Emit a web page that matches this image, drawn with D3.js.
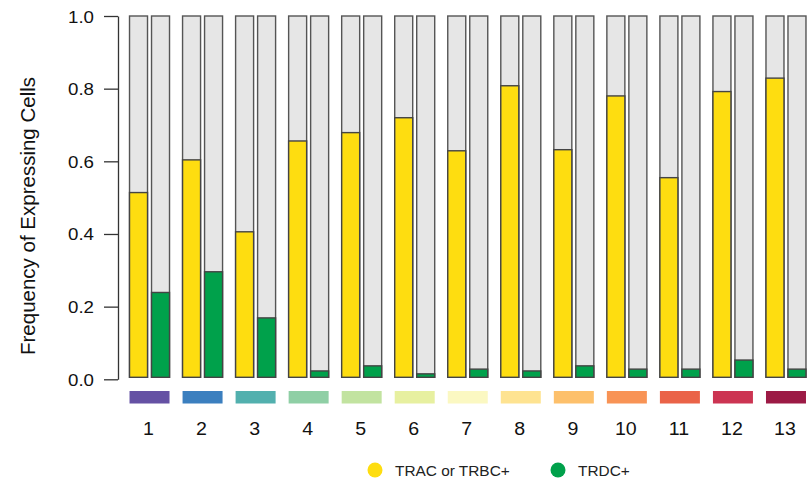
<!DOCTYPE html>
<html><head><meta charset="utf-8">
<script src="https://cdn.jsdelivr.net/npm/d3@7"></script>
<style>body{margin:0;background:#fff}svg{display:block;font-family:"Liberation Sans",Arial,Helvetica,sans-serif}</style>
</head><body><svg id="c" width="809" height="485"></svg>
<script>
const categories = ["1","2","3","4","5","6","7","8","9","10","11","12","13"];
const tracValues = [0.514,0.604,0.406,0.656,0.679,0.720,0.629,0.808,0.632,0.780,0.555,0.792,0.829];
const trdcValues = [0.239,0.296,0.169,0.023,0.037,0.015,0.028,0.023,0.037,0.028,0.028,0.053,0.028];
const clusterColors = ["#6551a4","#3b7fbf","#52b0ae","#8fcfa5","#c2e3a0","#e7f0a0","#fbf8c2","#fee391","#fdc06b","#f89355","#ea6348","#cc3452","#9c1a45"];
const yTicks = [0,0.2,0.4,0.6,0.8,1.0];
const legendLabels = ["TRAC or TRBC+","TRDC+"];
const seriesColors = ["#fedd10","#00a14b"];

const svg = d3.select("#c");
const y = d3.scaleLinear().domain([0,1]).range([379.3,16]);
const x = d3.scalePoint().domain(categories).range([123,812.5]).padding(0.5);
const bw = 18, gap = 2;
const base = y(0) - 2;

// y axis
const ax = svg.append("g").attr("transform","translate(118,0)")
  .call(d3.axisLeft(y).tickValues(yTicks).tickFormat(d3.format(".1f")).tickSize(14).tickSizeOuter(0).tickPadding(10));
ax.select(".domain").attr("stroke","#333").attr("stroke-width",1.3);
ax.selectAll(".tick line").attr("stroke","#333").attr("stroke-width",1.3);
ax.selectAll(".tick text").attr("font-size",17).attr("fill","#111")
  .attr("font-family","Liberation Sans, Arial, sans-serif")
  .attr("x",0).attr("dy",null).attr("y",6)
  .attr("transform","translate(-24,0) scale(1.1,1)");

svg.append("text").attr("transform","translate(35,216) rotate(-90)")
  .attr("text-anchor","middle").attr("font-size",20.5).attr("fill","#111")
  .text("Frequency of Expressing Cells");

const g = svg.append("g");
categories.forEach((c,i)=>{
  const cx = x(c);
  const xs = [cx - gap - bw, cx + gap];
  const vals = [tracValues[i], trdcValues[i]];
  xs.forEach((bx,j)=>{
    g.append("rect").attr("x",bx).attr("y",y(1)).attr("width",bw).attr("height",base - y(1))
      .attr("fill","#e6e6e6").attr("stroke","#555").attr("stroke-width",1.4);
    g.append("rect").attr("x",bx).attr("y",y(vals[j])).attr("width",bw).attr("height",Math.max(0,base - y(vals[j])))
      .attr("fill",seriesColors[j]).attr("stroke","#444").attr("stroke-width",1.4);
  });
  g.append("rect").attr("x",cx-20).attr("y",391).attr("width",40).attr("height",12.5).attr("fill",clusterColors[i]);
  g.append("text").attr("transform",`translate(${cx-1},435) scale(1.12,1)`).attr("text-anchor","middle")
    .attr("font-size",17.5).attr("fill","#111").text(c);
});

// legend
const legX = [375,558];
legendLabels.forEach((l,i)=>{
  svg.append("circle").attr("cx",legX[i]).attr("cy",470).attr("r",7.5).attr("fill",seriesColors[i]);
  svg.append("text").attr("x",legX[i]+20).attr("y",476).attr("font-size",15.4).attr("fill","#222").text(l);
});
</script></body></html>
